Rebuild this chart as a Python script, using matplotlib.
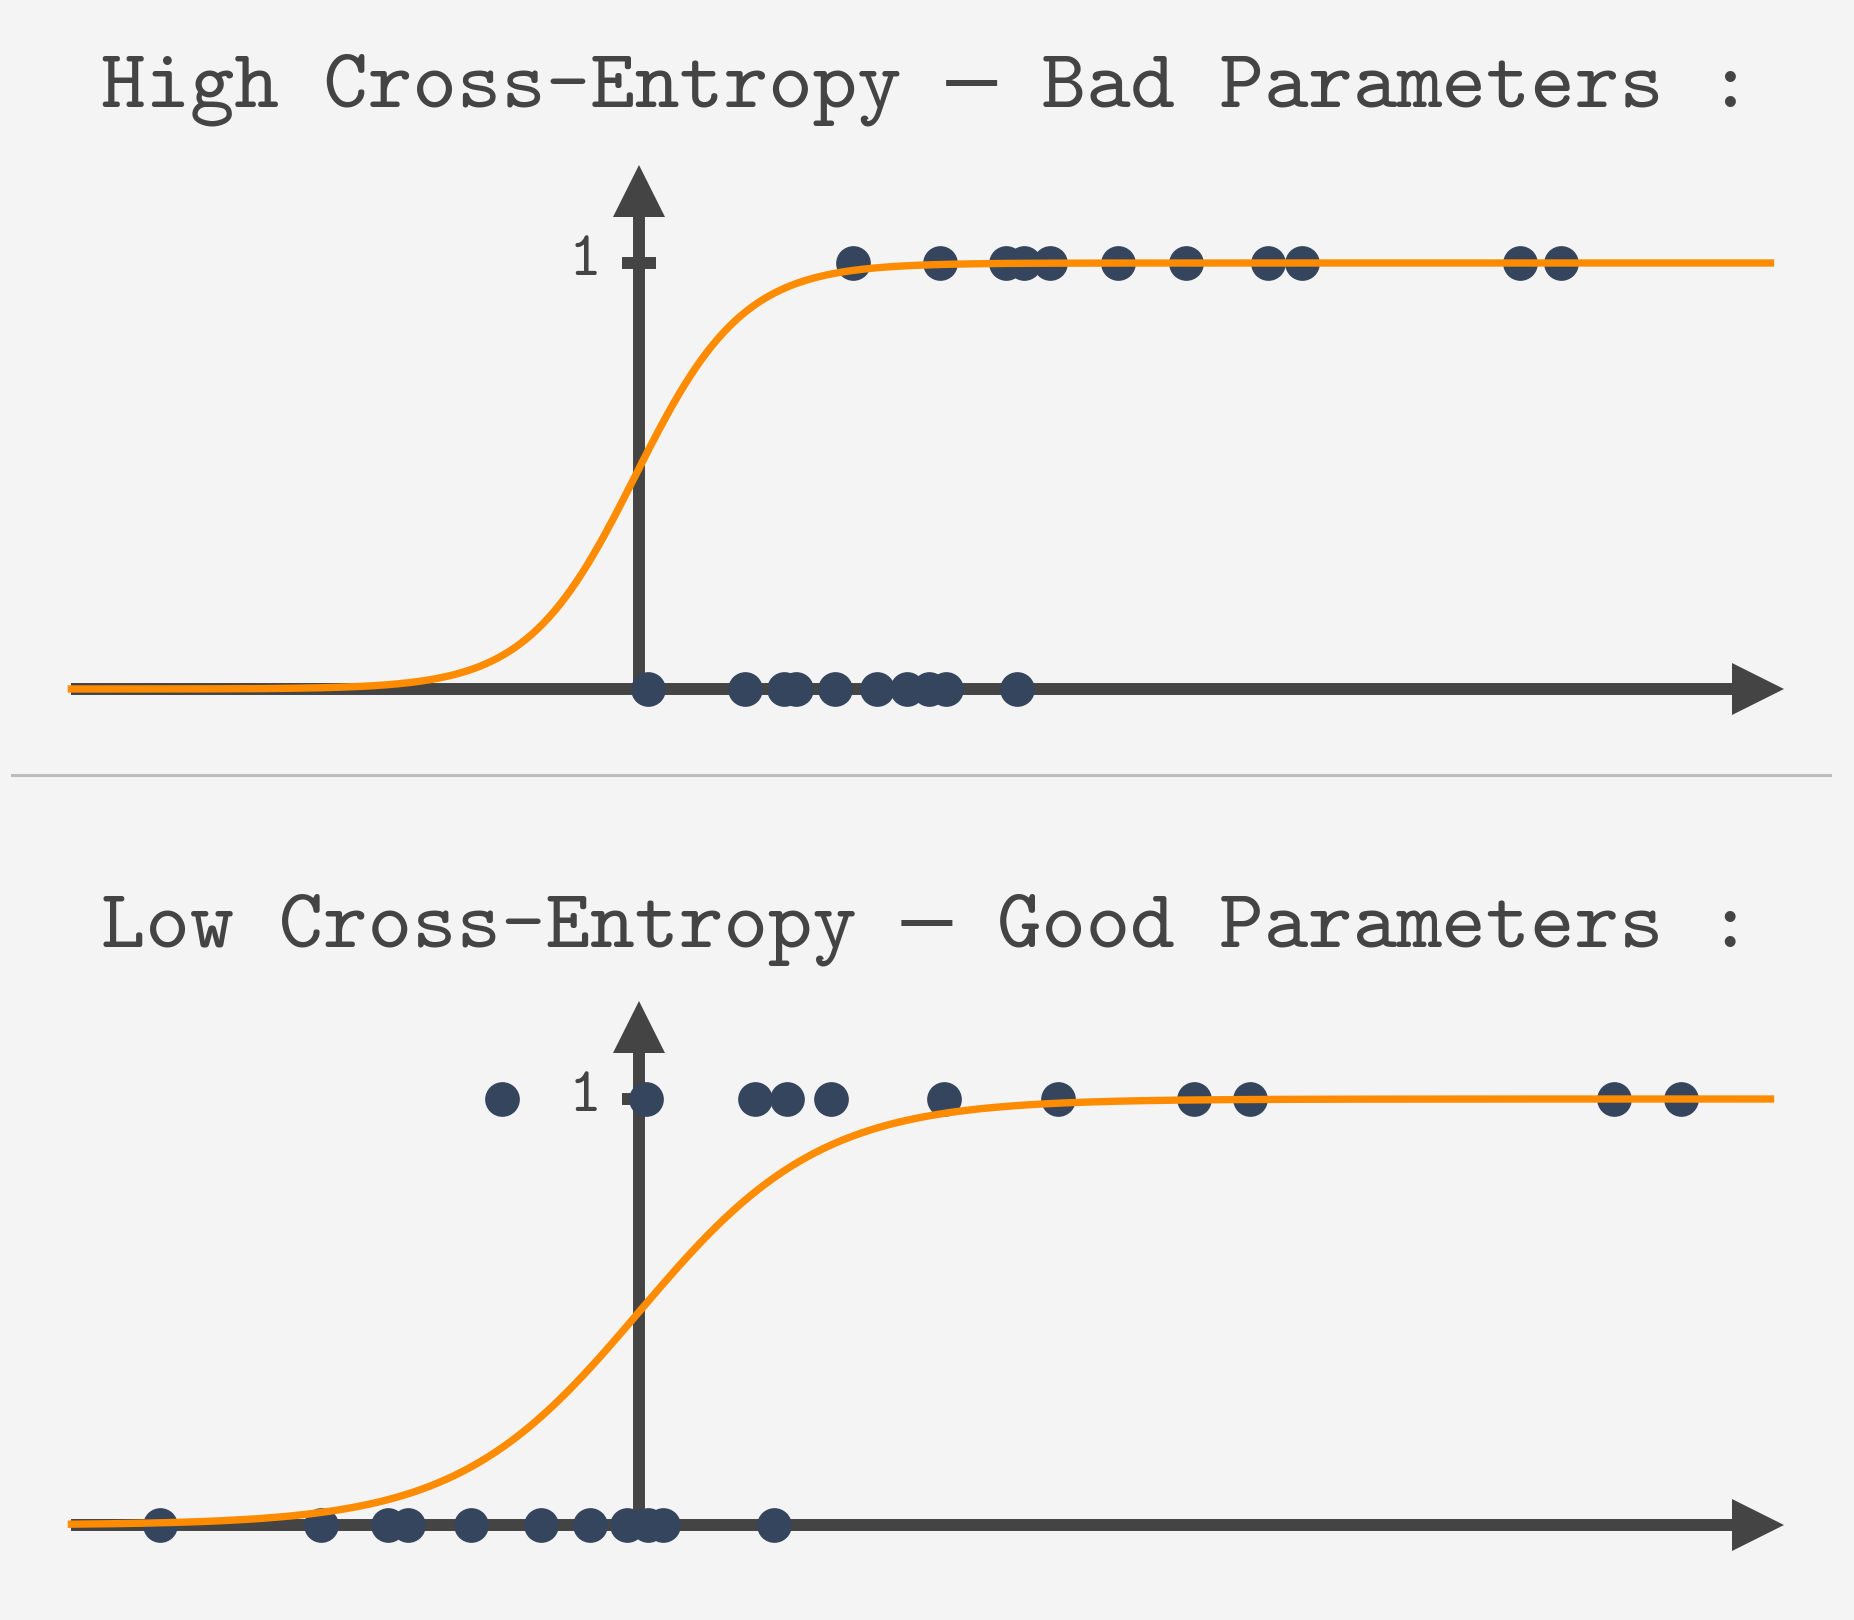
import numpy as np
import matplotlib.pyplot as plt

# data (x in axis units, y-axis at x = 0)
bad_pos = [1.81, 2.55, 3.10, 3.26, 3.48, 4.05, 4.63, 5.32, 5.61, 7.45, 7.80]
bad_neg = [0.08, 0.90, 1.23, 1.33, 1.66, 2.01, 2.27, 2.45, 2.60, 3.20]
good_pos = [-1.16, 0.06, 0.98, 1.25, 1.62, 2.58, 3.54, 4.69, 5.17, 8.25, 8.81]
good_neg = [-4.05, -2.69, -2.12, -1.95, -1.42, -0.83, -0.41, -0.10, 0.08, 0.20, 1.14]

# logistic model parameters (slope, offset) of the orange curves
bad_w, bad_b = 2.19, 0.07
good_w, good_b = 1.30, 0.0

titles = ["High Cross-Entropy \u2014 Bad Parameters :",
          "Low Cross-Entropy \u2014 Good Parameters :"]

bg = '#f4f4f4'
ink = '#444444'
dot = '#35455d'
orange = '#ff8c00'
font = ['cmtt10', 'DejaVu Sans Mono']

x_left, x_right = -4.80, 9.57

fig = plt.figure(figsize=(18.54, 16.2), dpi=100, facecolor=bg)


def panel(ax, pos, neg, w, b):
    ax.set_facecolor(bg)
    ax.set_xlim(-5.404, 10.276)
    ax.set_ylim(-0.1197, 1.2887)
    ax.axis('off')
    # axes with arrow heads
    ax.plot([x_left, 9.30], [0, 0], color=ink, lw=8.6, solid_capstyle='butt', zorder=1)
    ax.plot([9.468], [0], marker='>', ms=38, color=ink, mew=0, zorder=1)
    ax.plot([0, 0], [0, 1.12], color=ink, lw=8.6, solid_capstyle='butt', zorder=1)
    ax.plot([0], [1.168], marker='^', ms=38, color=ink, mew=0, zorder=1)
    ax.plot([-0.14, 0.14], [1, 1], color=ink, lw=8.6, solid_capstyle='butt', zorder=1)
    ax.text(-0.457, 1, '1', family=font, fontsize=45, color=ink,
            ha='center', va='center')
    # samples
    ax.plot(pos, np.ones(len(pos)), 'o', ms=25, color=dot, mew=0, zorder=2)
    ax.plot(neg, np.zeros(len(neg)), 'o', ms=25, color=dot, mew=0, zorder=2)
    # model
    xs = np.linspace(x_left, x_right, 600)
    ax.plot(xs, 1 / (1 + np.exp(-(w * xs + b))), color=orange, lw=5.3, zorder=3)


ax1 = fig.add_axes([0, 880 / 1620, 1, 600 / 1620])
panel(ax1, bad_pos, bad_neg, bad_w, bad_b)
ax2 = fig.add_axes([0, 44 / 1620, 1, 600 / 1620])
panel(ax2, good_pos, good_neg, good_w, good_b)

fig.text(0.5, (1620 - 107) / 1620, titles[0], family=font, fontsize=61,
         color=ink, ha='center', va='baseline')
fig.text(0.5, (1620 - 946) / 1620, titles[1], family=font, fontsize=61,
         color=ink, ha='center', va='baseline')

fig.add_artist(plt.Line2D([12 / 1854, 1830 / 1854], [845 / 1620, 845 / 1620],
                          color='#bdbdbd', lw=2.2))

fig.savefig('out.png', dpi=100, facecolor=bg)
